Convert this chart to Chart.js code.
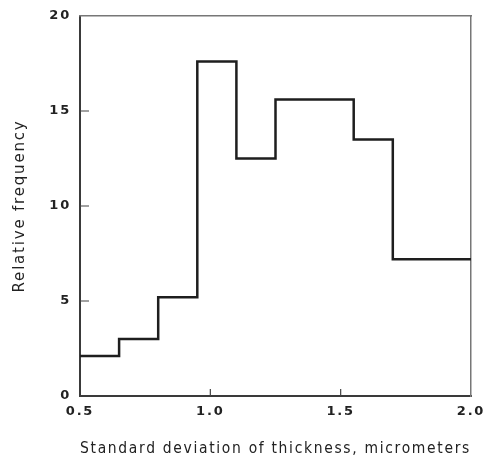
<!DOCTYPE html>
<html>
<head>
<meta charset="utf-8">
<script src="https://cdn.jsdelivr.net/npm/chart.js@4"></script>
<style>
  html, body { margin: 0; padding: 0; background: #fff; }
  #wrap { width: 484px; height: 458px; }
</style>
</head>
<body>
<div id="wrap"><canvas id="hist"></canvas></div>
<script>
// histogram bins (standard deviation of thickness, micrometers)
const binEdges = [0.5, 0.65, 0.8, 0.95, 1.1, 1.25, 1.4, 1.55, 1.7, 1.85, 2.0];
const frequencies = [2.1, 3.0, 5.2, 17.6, 12.5, 15.6, 15.6, 13.5, 7.2, 7.2];
const xTickValues = [0.5, 1.0, 1.5, 2.0];
const yTickValues = [0, 5, 10, 15, 20];

// step outline: one point per left edge, plus the closing right edge
const stepPoints = frequencies.map((f, i) => ({ x: binEdges[i], y: f }));
stepPoints.push({ x: binEdges[binEdges.length - 1], y: frequencies[frequencies.length - 1] });

const FONT = "'DejaVu Sans', sans-serif";

// the old typeset lettering is widely spaced
const spacedText = {
    id: 'spacedText',
    beforeUpdate(chart) { chart.ctx.letterSpacing = '1.8px'; },
    beforeDraw(chart) { chart.ctx.letterSpacing = '1.8px'; }
};

// small tick marks drawn inside the frame
const innerTicks = {
    id: 'innerTicks',
    afterDraw(chart) {
        const { ctx, chartArea: a, scales: { x, y } } = chart;
        ctx.save();
        ctx.strokeStyle = '#444';
        ctx.lineWidth = 1.2;
        ctx.beginPath();
        yTickValues.slice(1, -1).forEach(v => {
            const py = y.getPixelForValue(v);
            ctx.moveTo(a.left, py); ctx.lineTo(a.left + 9, py);
        });
        xTickValues.slice(1, -1).forEach(v => {
            const px = x.getPixelForValue(v);
            ctx.moveTo(px, a.bottom); ctx.lineTo(px, a.bottom - 7);
        });
        ctx.stroke();
        ctx.restore();
    }
};

new Chart(document.getElementById('hist'), {
    type: 'line',
    data: {
        datasets: [{
            data: stepPoints,
            stepped: 'before',
            borderColor: '#1e1e1e',
            borderWidth: 2.5,
            pointRadius: 0,
            fill: false
        }]
    },
    options: {
        responsive: true,
        maintainAspectRatio: false,
        animation: false,
        layout: { padding: { left: 0, top: 16, right: 13, bottom: 0 } },
        plugins: { legend: { display: false }, tooltip: { enabled: false } },
        scales: {
            x: {
                type: 'linear', min: 0.5, max: 2.0,
                afterBuildTicks: s => { s.ticks = xTickValues.map(v => ({ value: v })); },
                afterFit: s => { s.height = 62; s.paddingLeft = 0; s.paddingRight = 0; },
                grid: { display: false, drawTicks: false },
                border: { color: '#3a3a3a', width: 2 },
                ticks: { color: '#222', padding: 8, font: { family: FONT, size: 13, weight: 'bold' }, callback: v => v.toFixed(1), maxRotation: 0 },
                title: { display: true, text: 'Standard deviation of thickness, micrometers', color: '#222', font: { family: FONT, size: 15 }, padding: { top: 0, bottom: 0 } }
            },
            y: {
                type: 'linear', min: 0, max: 20,
                afterBuildTicks: s => { s.ticks = yTickValues.map(v => ({ value: v })); },
                afterFit: s => { s.width = 80; s.paddingTop = 0; s.paddingBottom = 0; },
                grid: { display: false, drawTicks: false },
                border: { color: '#3a3a3a', width: 2 },
                ticks: { color: '#222', padding: 9, font: { family: FONT, size: 13, weight: 'bold' } },
                title: { display: true, text: 'Relative frequency', color: '#222', font: { family: FONT, size: 15 }, padding: { top: 11, bottom: 0 } }
            },
            xTop: {
                type: 'linear', position: 'top', min: 0.5, max: 2.0,
                afterFit: s => { s.height = 0; s.paddingLeft = 0; s.paddingRight = 0; },
                grid: { display: false, drawTicks: false },
                border: { color: '#777', width: 1.5 },
                ticks: { display: false }
            },
            yRight: {
                type: 'linear', position: 'right', min: 0, max: 20,
                afterFit: s => { s.width = 0; s.paddingTop = 0; s.paddingBottom = 0; },
                grid: { display: false, drawTicks: false },
                border: { color: '#777', width: 1.5 },
                ticks: { display: false }
            }
        }
    },
    plugins: [spacedText, innerTicks]
});
</script>
</body>
</html>
